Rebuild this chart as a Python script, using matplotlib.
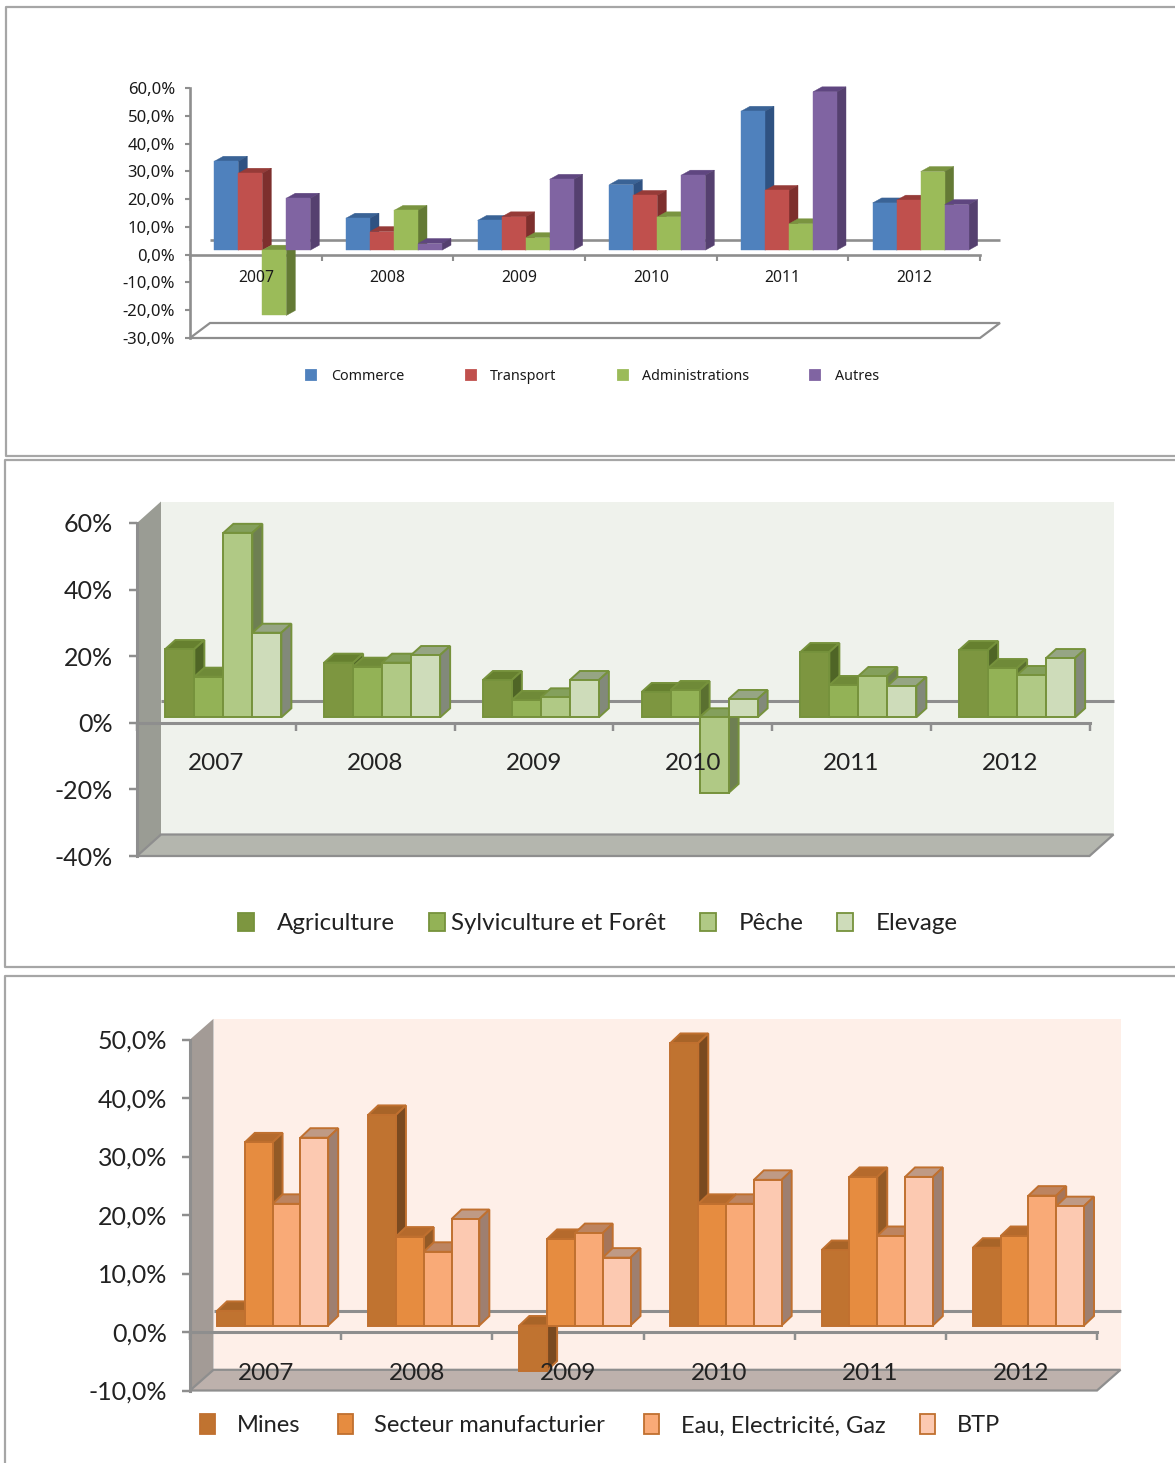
import matplotlib
matplotlib.use("Agg")
import matplotlib.pyplot as plt
from matplotlib.lines import Line2D
from matplotlib.patches import Rectangle

W, H = 1175, 1463
years = ["2007", "2008", "2009", "2010", "2011", "2012"]

# Panel 1
commerce = [32.0, 11.5, 10.7, 23.6, 50.0, 17.0]
transport = [27.7, 6.7, 12.0, 19.7, 21.5, 18.0]
administrations = [-23.5, 14.3, 4.5, 12.0, 9.5, 28.3]
autres = [18.7, 2.4, 25.5, 27.0, 57.0, 16.4]
names1 = ["Commerce", "Transport", "Administrations", "Autres"]
ticks1 = [-30, -20, -10, 0, 10, 20, 30, 40, 50, 60]

# Panel 2
agriculture = [20.5, 16.4, 11.2, 7.6, 19.6, 20.2]
sylviculture = [12.2, 15.2, 5.2, 8.2, 9.7, 14.8]
peche = [55.4, 16.4, 6.0, -22.7, 12.4, 12.7]
elevage = [25.4, 18.7, 11.2, 5.5, 9.4, 17.8]
names2 = ["Agriculture", "Sylviculture et Forêt", "Pêche", "Elevage"]
ticks2 = [-40, -20, 0, 20, 40, 60]

# Panel 3
mines = [2.5, 36.0, -7.7, 48.3, 12.9, 13.3]
manufacturier = [31.3, 15.2, 14.8, 20.8, 25.4, 15.3]
eau = [20.8, 12.6, 15.8, 20.8, 15.3, 22.2]
btp = [32.1, 18.2, 11.6, 24.9, 25.4, 20.4]
names3 = ["Mines", "Secteur manufacturier", "Eau, Electricité, Gaz", "BTP"]
ticks3 = [-10, 0, 10, 20, 30, 40, 50]

AXIS = "#8e8e8e"
fig = plt.figure(figsize=(W / 100, H / 100), dpi=100, facecolor="white")


def fx(x):
    return x / W


def fy(y):
    return 1 - y / H


def frame(x0, y0, y1):
    pts_x = [W + 5, x0, x0, W + 5]
    pts_y = [y0, y0, y1, y1]
    fig.add_artist(Line2D([fx(v) for v in pts_x], [fy(v) for v in pts_y],
                          color="#a6a6a6", lw=1.6, transform=fig.transFigure))


def panel(series, ticks, fmt, box, ylim, st):
    x0, x1, ytop, ybot = box
    ax = fig.add_axes([fx(x0), fy(ybot), (x1 - x0) / W, (ybot - ytop) / H])
    ax.set_xlim(0, 6)
    ax.set_ylim(*ylim)
    ax.patch.set_visible(False)
    sx = (x1 - x0) / 6
    sy = (ybot - ytop) / (ylim[1] - ylim[0])
    bdx, bdy = st["back"][0] / sx, st["back"][1] / sy
    ymin, ymax = ylim
    # walls and floor
    if st["wall"]:
        ax.fill([bdx, 6 + bdx, 6 + bdx, bdx], [ymin + bdy, ymin + bdy, ymax + bdy, ymax + bdy],
                color=st["wall"], lw=0, zorder=0.1, clip_on=False)
        ax.fill([0, bdx, bdx, 0], [ymin, ymin + bdy, ymax + bdy, ymax],
                color=st["side"], lw=0, zorder=0.2, clip_on=False)
    ax.fill([0, 6, 6 + bdx, bdx], [ymin, ymin, ymin + bdy, ymin + bdy],
            facecolor=st["floor"], edgecolor=AXIS, lw=st["floor_lw"], zorder=0.3, clip_on=False)
    ax.plot([bdx, 6 + bdx], [bdy, bdy], color=AXIS, lw=st["line_lw"], zorder=0.4,
            clip_on=False, solid_capstyle="butt")
    # bars
    w = st["w"] / sx
    dx, dy = st["depth"][0] / sx, st["depth"][1] / sy
    base = st["base"] / sy
    off = st["off"] / sx
    z = 3.0
    for i in range(len(years)):
        for j, vals in enumerate(series):
            v = vals[i]
            xl = i + 0.5 + off + (j - 2) * w
            xr = xl + w
            lo, hi = base + min(v, 0), base + max(v, 0)
            ax.fill([xl, xr, xr + dx, xl + dx], [hi, hi, hi + dy, hi + dy],
                    facecolor=st["tops"][j], edgecolor=st["edge"] or st["tops"][j],
                    lw=st["elw"], zorder=z, clip_on=False)
            ax.fill([xr, xr + dx, xr + dx, xr], [lo, lo + dy, hi + dy, hi],
                    facecolor=st["sides"][j], edgecolor=st["edge"] or st["sides"][j],
                    lw=st["elw"], zorder=z + 0.01, clip_on=False)
            ax.bar(xl, v, width=w, bottom=base, align="edge", color=st["fronts"][j],
                   edgecolor=st["edge"] or st["fronts"][j], linewidth=st["elw"],
                   zorder=z + 0.02, clip_on=False)
            z += 0.1
    # axes
    for s in ("top", "right"):
        ax.spines[s].set_visible(False)
    ax.spines["bottom"].set_position(("data", 0))
    for s in ("left", "bottom"):
        ax.spines[s].set_color(AXIS)
        ax.spines[s].set_linewidth(st["line_lw"])
        ax.spines[s].set_zorder(1.5)
    ax.xaxis.set_zorder(100)
    ax.yaxis.set_zorder(100)
    ax.set_yticks(ticks)
    ax.set_yticklabels([fmt(t) for t in ticks], fontfamily=st["font"], fontsize=st["fs"],
                       color=st["txt"])
    ax.tick_params(axis="y", length=st["ytl"] * 0.72, width=st["line_lw"] * 0.8, color=AXIS,
                   pad=st["ypad"] * 0.72)
    ax.set_xticks(range(7))
    ax.set_xticklabels([])
    ax.tick_params(axis="x", which="major", length=st["xtl"] * 0.72, width=st["line_lw"] * 0.8,
                   color=AXIS)
    ax.set_xticks([i + 0.5 for i in range(6)], minor=True)
    ax.set_xticklabels(years, minor=True, fontfamily=st["font"], fontsize=st["xfs"],
                       color=st["txt"])
    ax.tick_params(axis="x", which="minor", length=0, pad=st["xpad"] * 0.72)
    # legend
    lg = st["legend"]
    for j, name in enumerate(st["names"]):
        cx = lg["cx"][j]
        mw, mh = lg["size"]
        fig.add_artist(Rectangle((fx(cx - mw / 2), fy(lg["y"] + mh / 2)), mw / W, mh / H,
                                 facecolor=st["fronts"][j], edgecolor=st["edge"] or st["fronts"][j],
                                 lw=1.3, transform=fig.transFigure))
        fig.text(fx(lg["tx"][j]), fy(lg["y"]), name, fontfamily=st["font"], fontsize=lg["fs"],
                 color=st["txt"], va="center_baseline", ha="left")


frame(5.5, 6.5, 456)
frame(4.5, 460, 967)
frame(4.5, 976, H + 5)

panel([commerce, transport, administrations, autres], ticks1,
      lambda t: f"{t},0%", (190, 980, 88, 338), (-30, 60),
      dict(back=(20, 15), wall=None, side=None, floor="white", floor_lw=1.6, line_lw=1.9,
           w=24, off=6.5, depth=(9, 5), base=4.5, edge=None, elw=0.3,
           fronts=["#4f81bd", "#c0504d", "#9bbb59", "#8064a2"],
           tops=["#3a6396", "#963b38", "#7a9440", "#5f4680"],
           sides=["#2f5282", "#7d2f2d", "#647a35", "#55406f"],
           font="Noto Sans", fs=12, xfs=11.3, txt="#1a1a1a", ytl=5, ypad=10, xtl=6, xpad=15.5,
           names=names1,
           legend=dict(cx=[311, 471, 623, 815], tx=[331, 490, 642, 835], y=375, size=(10, 10), fs=10.3)))

panel([agriculture, sylviculture, peche, elevage], ticks2,
      lambda t: f"{t}%", (137, 1089.5, 523, 856), (-40, 60),
      dict(back=(24, 21.5), wall="#eff2ec", side="#9a9c94", floor="#b4b6ae", floor_lw=1.6, line_lw=2.2,
           w=29, off=7, depth=(10, 9), base=5.5, edge="#76923c", elw=1.4,
           fronts=["#7d9640", "#93b256", "#b0c985", "#cedcba"],
           tops=["#66802f", "#6f8a38", "#84a05c", "#96a584"],
           sides=["#4f6526", "#5a7030", "#6e7f52", "#82897a"],
           font="Lato", fs=18, xfs=17.5, txt="#222222", ytl=8, ypad=16, xtl=8, xpad=30,
           names=names2,
           legend=dict(cx=[246, 437, 708, 845], tx=[277, 451, 739, 876], y=922, size=(16, 18), fs=17.4)))

panel([mines, manufacturier, eau, btp], ticks3,
      lambda t: f"{t},0%", (190, 1097, 1039.5, 1390.5), (-10, 50),
      dict(back=(23.5, 20.7), wall="#feefe8", side="#a39b96", floor="#bdb1ac", floor_lw=1.6, line_lw=2.2,
           w=27.8, off=7, depth=(10, 9.5), base=6.5, edge="#c0702f", elw=1.4,
           fronts=["#c07330", "#e68c40", "#f9aa77", "#fcc9b1"],
           tops=["#a86428", "#b56a2c", "#bd8460", "#bf9a85"],
           sides=["#7a4a20", "#935a26", "#a5755a", "#9e7f70"],
           font="Lato", fs=18, xfs=17.5, txt="#222222", ytl=8, ypad=15, xtl=8, xpad=31,
           names=names3,
           legend=dict(cx=[207, 345, 651, 927], tx=[237, 374, 681, 957], y=1424, size=(15, 20), fs=17)))

fig.savefig("out.png", dpi=100)
